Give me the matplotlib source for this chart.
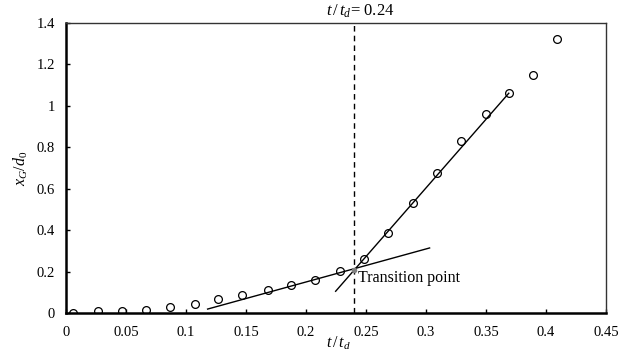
import matplotlib
matplotlib.use("Agg")
import matplotlib.pyplot as plt
from matplotlib.ticker import FuncFormatter

plt.rcParams['font.family'] = ['Liberation Serif', 'DejaVu Serif']
plt.rcParams['mathtext.fontset'] = 'custom'
plt.rcParams['mathtext.rm'] = 'Liberation Serif'
plt.rcParams['mathtext.it'] = 'Liberation Serif:italic'

# measured displacement of the centre of gravity
t_ratio = [0.006, 0.027, 0.047, 0.067, 0.087, 0.1075, 0.127, 0.147, 0.168,
           0.1875, 0.2075, 0.228, 0.248, 0.268, 0.289, 0.309, 0.329, 0.35,
           0.369, 0.389, 0.409]
x_ratio = [0.0, 0.008, 0.008, 0.016, 0.028, 0.045, 0.066, 0.085, 0.111,
           0.135, 0.159, 0.201, 0.262, 0.385, 0.533, 0.678, 0.832, 0.96,
           1.061, 1.151, 1.324]

# fitted lines (endpoints)
slow_t = [0.118, 0.303]
slow_x = [0.019, 0.314]
fast_t = [0.2247, 0.369]
fast_x = [0.105, 1.061]

t_trans = 0.24
x_trans = 0.21

fig = plt.figure(figsize=(6.36, 3.53), dpi=100)
ax = fig.add_axes([0.1038, 0.1133, 0.849, 0.8215])

ax.plot(t_ratio, x_ratio, 'o', mfc='none', mec='black', ms=5.6, mew=0.9)
ax.plot(slow_t, slow_x, color='black', lw=1.0)
ax.plot(fast_t, fast_x, color='black', lw=1.0)
ax.plot([t_trans, t_trans], [0, 1.4], color='black', lw=1.0, ls=(0, (4, 3)),
        clip_on=False)
ax.plot([t_trans], [x_trans], 'o', color='gray', ms=3, zorder=5)

ax.text(0.2435, 0.17, 'Transition point', fontsize=11.5, ha='left', va='center')
ax.text(0.2455, 1.415, r'$t\,/\,t_d$= 0.24', fontsize=12, ha='center', va='bottom')

ax.set_xlim(0, 0.45)
ax.set_ylim(0, 1.4)
ax.set_xticks([0, 0.05, 0.1, 0.15, 0.2, 0.25, 0.3, 0.35, 0.4, 0.45])
ax.set_yticks([0, 0.2, 0.4, 0.6, 0.8, 1.0, 1.2, 1.4])
ax.xaxis.set_major_formatter(FuncFormatter(lambda v, p: '%g' % round(v, 3)))
ax.yaxis.set_major_formatter(FuncFormatter(lambda v, p: '%g' % round(v, 3)))
ax.tick_params(direction='in', length=3, width=1, labelsize=10.5)
ax.tick_params(axis='x', pad=9)
ax.tick_params(axis='y', pad=8)

ax.set_xlabel(r'$t\,/\,t_d$', fontsize=11.5)
ax.xaxis.set_label_coords(0.504, -0.075)
ax.set_ylabel(r'$x_G/d_0$', fontsize=11.5)
ax.yaxis.set_label_coords(-0.066, 0.5)

for side in ['left', 'bottom']:
    ax.spines[side].set_linewidth(1.8)
for side in ['top', 'right']:
    ax.spines[side].set_linewidth(1.0)
    ax.spines[side].set_color('#333333')

fig.savefig('out.png', dpi=100)
